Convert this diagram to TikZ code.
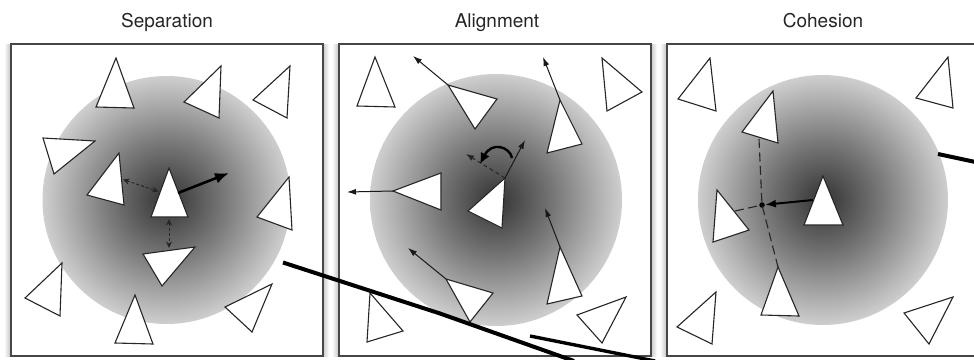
\documentclass[tikz,border=0pt]{standalone}
\usepackage{fontspec}
\newfontfamily\heros{TeX Gyre Heros}
\usetikzlibrary{arrows.meta}
\pgfdeclareradialshading{zone}{\pgfpoint{0bp}{0bp}}{color(0bp)=(black!80); color(12bp)=(black!52); color(25bp)=(black!19); color(50bp)=(black!19)}
\newcommand\tri[4]{%
  \coordinate (#1a) at (#2);
  \coordinate (#1b) at (#3);
  \coordinate (#1c) at (#4);
  \draw[tri] (#1a) -- (#1b) -- (#1c) -- cycle;}
\begin{document}
\begin{tikzpicture}[x=1pt,y=-1pt,
  tri/.style={draw=black!85, fill=white, line width=1.1pt, line join=miter},
  frame/.style={draw=black!72, line width=1.6pt, fill=white},
  title/.style={font=\heros\fontsize{19}{22}\selectfont, text=black!85, anchor=base, inner sep=0pt},
  bigarrow/.style={line width=2.6pt, -{Latex[length=14pt,width=11pt]}},
  medarrow/.style={line width=2pt, -{Latex[length=11pt,width=8pt]}},
  thinarrow/.style={line width=1pt, black!90, -{Latex[length=9pt,width=6pt]}},
  dblarrow/.style={line width=1pt, black!85, dash pattern=on 3pt off 2pt, {Stealth[length=6.5pt,width=6pt]}-{Stealth[length=6.5pt,width=6pt]}},
  shortdash/.style={line width=1pt, black!85, dash pattern=on 4pt off 3pt},
  longdash/.style={line width=1.1pt, black!85, dash pattern=on 9pt off 4.5pt},
  cutline/.style={line width=4pt, black},
  zonefill/.style={shading=zone}]
\useasboundingbox (0,0) rectangle (974,359);
\clip (0,0) rectangle (974,359);
\fill[white] (0,0) rectangle (974,359);

% frames with soft side shadow
\foreach \xa/\xb in {11/323, 339/651, 667/990}{
  \foreach \i in {1,...,6}{
    \fill[black, opacity=0.035] (\xa-\i,44) rectangle (\xb+\i,356.5);
  }
}
\draw[frame] (11,44) rectangle (323,356);
\draw[frame] (339,44) rectangle (651,356);
\draw[frame] (667,44) rectangle (990,356);

% titles
\node[title] (t1) at (167,27.3) {Separation};
\node[title] (t2) at (497,27.3) {Alignment};
\node[title] (t3) at (823,27.3) {Cohesion};

% neighbourhood zones
\shade[zonefill] (166.5,200) circle [radius=124pt];
\shade[zonefill] (496,200) circle [radius=126pt];
\shade[zonefill] (823,200) circle [radius=125pt];

% ---------- Separation ----------
\tri{a1}{116,58}{96,107}{134,108}
\tri{a2}{221,66}{184,102}{219,118}
\tri{a3}{290,66}{253,100}{287,118}
\tri{a4}{43,138}{95,141}{54,174}
\tri{a5}{119,153}{87,195}{124,205}
\tri{a6}{169,168}{151,217}{188,217}
\tri{a7}{289,177}{257,217}{292,230}
\tri{a8}{143,254}{195,247}{162,286}
\tri{a9}{62,263}{25,298}{60,316}
\tri{a10}{135,295}{115,343}{153,344}
\tri{a11}{272,284}{225,307}{252,332}
\coordinate (a6s) at (178,193);
\coordinate (a6t) at (229,173);
\draw[bigarrow] (a6s) -- (a6t);
\coordinate (d1a) at (123,179.5);
\coordinate (d1b) at (158.5,191.5);
\draw[dblarrow] (d1a) -- (d1b);
\coordinate (d2a) at (169,219);
\coordinate (d2b) at (169,248);
\draw[dblarrow] (d2a) -- (d2b);

% ---------- Alignment ----------
\tri{b1}{375,57}{357,106}{395,107}
\tri{b2}{448,85}{497,99}{475,129}
\tri{b3}{602,58}{642,92}{607,111}
\tri{b4}{560,100}{547,153}{582,144}
\tri{b5}{393,191}{441,173}{441,210}
\tri{b6}{505,178}{468,211}{502,228}
\tri{b7}{560,247}{547,304}{582,296}
\tri{b8}{446,279}{493,293}{470,322}
\tri{b9}{370,293}{367,342}{403,331}
\tri{b10}{626,297}{577,315}{602,343}
\coordinate (b2t) at (413,56);
\coordinate (b4t) at (543,57);
\coordinate (b5t) at (347,192);
\coordinate (b6t) at (525,140);
\coordinate (b7t) at (545,208);
\coordinate (b8t) at (408,248);
\draw[thinarrow] (b2a) -- (b2t);
\draw[thinarrow] (b4a) -- (b4t);
\draw[thinarrow] (b5a) -- (b5t);
\draw[thinarrow] (b6a) -- (b6t);
\draw[thinarrow] (b7a) -- (b7t);
\draw[thinarrow] (b8a) -- (b8t);
\coordinate (b6d) at (466,154);
\draw[shortdash, -{Latex[length=8pt,width=6pt]}] (b6a) -- (b6d);
\coordinate (rs) at (512,158);
\coordinate (re) at (480,164);
\draw[line width=2.4pt, -{Latex[length=11pt,width=10pt]}] (rs) .. controls (510,147) and (492,141) .. (re);

% ---------- Cohesion ----------
\tri{c1}{710,58}{678,99}{716,111}
\tri{c2}{948,57}{916,98}{953,108}
\tri{c3}{773,91}{742,132}{778,143}
\tri{c4}{823,176}{804,225}{843,225}
\tri{c5}{717,190}{713,242}{749,230}
\tri{c6}{778,267}{761,315}{799,316}
\tri{c7}{716,292}{677,327}{712,344}
\tri{c8}{953,297}{904,313}{929,344}
\node[circle, fill=black, inner sep=0pt, minimum size=5.5pt] (ctr) at (762,205) {};
\coordinate (c3m) at (759,139);
\coordinate (c5m) at (735,211);
\draw[longdash] (c3m) -- (ctr.center) -- (c6a);
\draw[longdash] (c5m) -- (ctr.center);
\coordinate (c4s) at (813,200);
\draw[medarrow] (c4s) -- (ctr);

% ---------- cut lines ----------
\coordinate (l1a) at (283,262.5);
\coordinate (l1m) at (440,313.5);
\coordinate (l1b) at (574,361);
\draw[cutline] (l1a) -- (l1m) -- (l1b);
\coordinate (l2a) at (530,336);
\coordinate (l2b) at (655,361);
\draw[cutline, line width=3.4pt] (l2a) -- (l2b);
\coordinate (l3a) at (938,154);
\coordinate (l3b) at (980,163);
\draw[cutline] (l3a) -- (l3b);
\end{tikzpicture}
\end{document}
